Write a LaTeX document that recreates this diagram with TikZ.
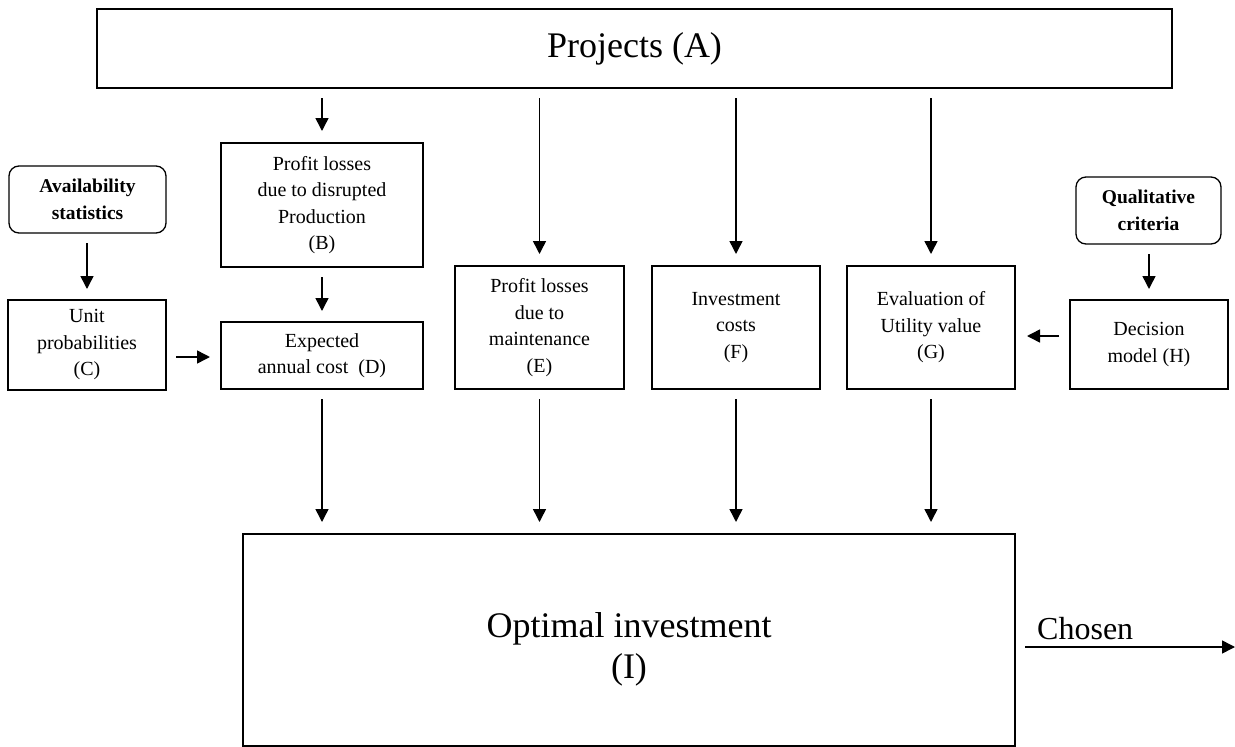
\documentclass[tikz,border=0pt]{standalone}
\usepackage{fontspec}
\setmainfont{Liberation Serif}
\usetikzlibrary{arrows.meta}
\begin{document}
\begin{tikzpicture}[x=1pt,y=-1pt,
  box/.style={draw, line width=1.3pt, inner sep=0pt, outer sep=0pt, align=center,
    font=\fontsize{20}{26.5}\selectfont},
  rbox/.style={box, rounded corners=10pt, font=\fontsize{19.5}{27}\selectfont\bfseries},
  arr/.style={line width=1.5pt, -{Triangle[length=13pt,width=13pt]}},
  gapA/.style={shorten <=10pt, shorten >=12pt}]
\useasboundingbox (0,0) rectangle (1235,747);
% nodes
\node[box, minimum width=1075pt, minimum height=79pt, font=\fontsize{36}{43}\selectfont] (A) at (634.5,48.5) {Projects (A)};
\node[rbox, minimum width=157pt, minimum height=67pt] (AV) at (87.5,199.5) {Availability\\statistics};
\node[box, minimum width=202pt, minimum height=124pt] (B) at (322,205) {Profit losses\\due to\ disrupted\\Production\\(B)};
\node[box, minimum width=158pt, minimum height=90pt] (C) at (87,345) {Unit\\probabilities\\(C)};
\node[box, minimum width=202pt, minimum height=67pt] (D) at (322,355.5) {Expected\\annual cost\ \ (D)};
\node[box, minimum width=169pt, minimum height=123pt] (E) at (539.5,327.5) {Profit losses\\due to\\maintenance\\(E)};
\node[box, minimum width=168pt, minimum height=123pt] (F) at (736,327.5) {Investment\\costs\\(F)};
\node[box, minimum width=168pt, minimum height=123pt] (G) at (931,327.5) {Evaluation of\\Utility value\\(G)};
\node[rbox, minimum width=145pt, minimum height=67pt] (Q) at (1148.5,210.5) {Qualitative\\criteria};
\node[box, minimum width=158pt, minimum height=89pt] (H) at (1149,344.5) {Decision\\model (H)};
\node[box, minimum width=772pt, minimum height=212pt] (I) at (629,640) {};
\node[align=center, inner sep=0pt, font=\fontsize{36}{41}\selectfont] (It) at (629,649) {Optimal investment\\(I)};
% arrows from A
\draw[arr, gapA] (A.south -| B.north) -- (B.north);
\draw[arr, gapA] (A.south -| E.north) -- (E.north);
\draw[arr, gapA] (A.south -| F.north) -- (F.north);
\draw[arr, gapA] (A.south -| G.north) -- (G.north);
% side arrows
\draw[arr, shorten <=10pt, shorten >=11pt] (B.south) -- (D.north);
\draw[arr, shorten <=10pt, shorten >=11pt] (AV.south -| C.north) -- (C.north);
\draw[arr, shorten <=10pt, shorten >=11pt] (Q.south -| H.north) -- (H.north);
\draw[arr, shorten <=10pt, shorten >=11pt] (C.east |- 0,357) -- (D.west |- 0,357);
\draw[arr, shorten <=11pt, shorten >=12pt] (H.west |- 0,336) -- (G.east |- 0,336);
% arrows into I
\draw[arr, gapA] (D.south) -- (I.north -| D.south);
\draw[arr, gapA] (E.south) -- (I.north -| E.south);
\draw[arr, gapA] (F.south) -- (I.north -| F.south);
\draw[arr, gapA] (G.south) -- (I.north -| G.south);
% chosen
\coordinate (out) at (1235,647);
\draw[arr, shorten <=10pt] (I.east |- out) -- (out);
\node[anchor=base west, inner sep=0pt, font=\fontsize{32}{38}\selectfont] (ch) at (1037,639) {Chosen};
\end{tikzpicture}
\end{document}
